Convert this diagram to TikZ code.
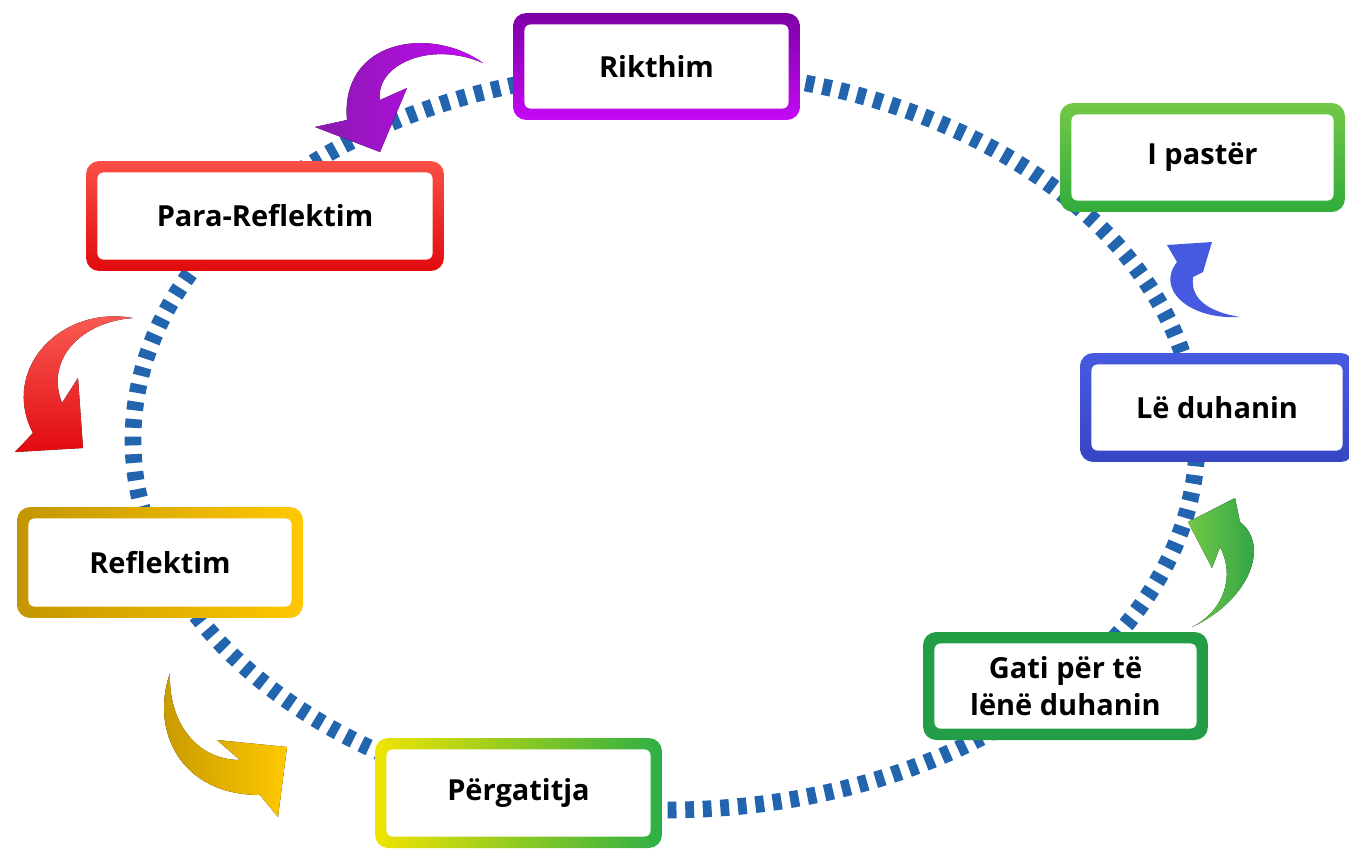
\documentclass[tikz,border=0pt]{standalone}
\usepackage{fontspec}
\setmainfont{Open Sans}
\definecolor{ringblue}{RGB}{35,100,175}
\definecolor{purpletop}{RGB}{125,0,165}
\definecolor{purplebot}{RGB}{195,10,245}
\definecolor{redtop}{RGB}{250,80,70}
\definecolor{redbot}{RGB}{225,10,15}
\definecolor{goldleft}{RGB}{195,150,0}
\definecolor{goldright}{RGB}{255,200,0}
\definecolor{yellowleft}{RGB}{240,228,0}
\definecolor{limemid}{RGB}{150,205,0}
\definecolor{greenright}{RGB}{45,175,70}
\definecolor{darkgreen}{RGB}{35,158,70}
\definecolor{leaftop}{RGB}{115,200,70}
\definecolor{leafbot}{RGB}{50,172,60}
\definecolor{bluetop}{RGB}{70,90,225}
\definecolor{bluebot}{RGB}{55,70,195}
\tikzset{
	stage/.style={shape=rectangle,rounded corners=7.5pt,inner sep=0pt,align=center,
		font=\fontsize{16.5}{21}\selectfont\bfseries,
		path picture={\fill[white,rounded corners=3.5pt]
			([shift={(6.5pt,-6.5pt)}]path picture bounding box.north west) rectangle
			([shift={(-6.5pt,6.5pt)}]path picture bounding box.south east);}},
	ring/.style={draw=ringblue,line width=9.5pt,dash pattern=on 5pt off 5pt},
}
\begin{document}
\begin{tikzpicture}[x=0.02cm,y=-0.02cm]
	\clip (0,0) rectangle (1349,849);
	\draw[ring] (665,440) ellipse [x radius=532, y radius=370];
	\begin{scope}
		\tikzstyle{every node}=[stage];
		\path (656.5,66.5)  node[minimum width=5.74cm,minimum height=2.14cm,top color=purpletop,bottom color=purplebot] (rikthim) {Rikthim};
		\path (1202.5,157.5) node[minimum width=5.70cm,minimum height=2.18cm,top color=leaftop,bottom color=leafbot] (paster) {I pastër};
		\path (265,216)     node[minimum width=7.16cm,minimum height=2.20cm,top color=redtop,bottom color=redbot] (parareflektim) {Para-Reflektim};
		\path (1217,407.5)  node[minimum width=5.48cm,minimum height=2.18cm,top color=bluetop,bottom color=bluebot] (leduhanin) {Lë duhanin};
		\path (160,562.5)   node[minimum width=5.72cm,minimum height=2.22cm,left color=goldleft,right color=goldright] (reflektim) {Reflektim};
		\path (1065.5,686)  node[minimum width=5.70cm,minimum height=2.16cm,fill=darkgreen] (gati) {Gati për të\\lënë duhanin};
		\path (518.5,793)   node[minimum width=5.74cm,minimum height=2.20cm,left color=yellowleft,middle color=limemid,right color=greenright] (pergatitja) {Përgatitja};
	\end{scope}
	\fill[left color=purpletop!90,right color=purplebot] (483,63) .. controls (430,25) and (340,40) .. (347,120) -- (315,127) -- (380,152) -- (407,88) -- (380,100) .. controls (375,65) and (430,40) .. (483,63) -- cycle;
	\fill[top color=redtop!90!white,bottom color=redbot] (133,318) .. controls (60,305) and (0,370) .. (33,433) -- (15,452) -- (83,448) -- (78,378) -- (62,403) .. controls (45,360) and (80,322) .. (133,318) -- cycle;
	\fill[left color=goldleft,right color=goldright] (170,673) .. controls (150,730) and (180,795) .. (260,795) -- (278,817) -- (287,747) -- (217,740) -- (240,760) .. controls (195,760) and (168,720) .. (170,673) -- cycle;
	\fill[left color=leaftop,right color=darkgreen] (1192,627) .. controls (1250,600) and (1270,545) .. (1240,522) -- (1235,498) -- (1188,522) -- (1212,568) -- (1220,547) .. controls (1235,575) and (1225,610) .. (1192,627) -- cycle;
	\fill[bluetop] (1240,317) .. controls (1190,320) and (1155,290) .. (1177,262) -- (1167,245) -- (1212,242) -- (1203,272) -- (1193,277) .. controls (1190,300) and (1210,312) .. (1240,317) -- cycle;
\end{tikzpicture}
\end{document}
